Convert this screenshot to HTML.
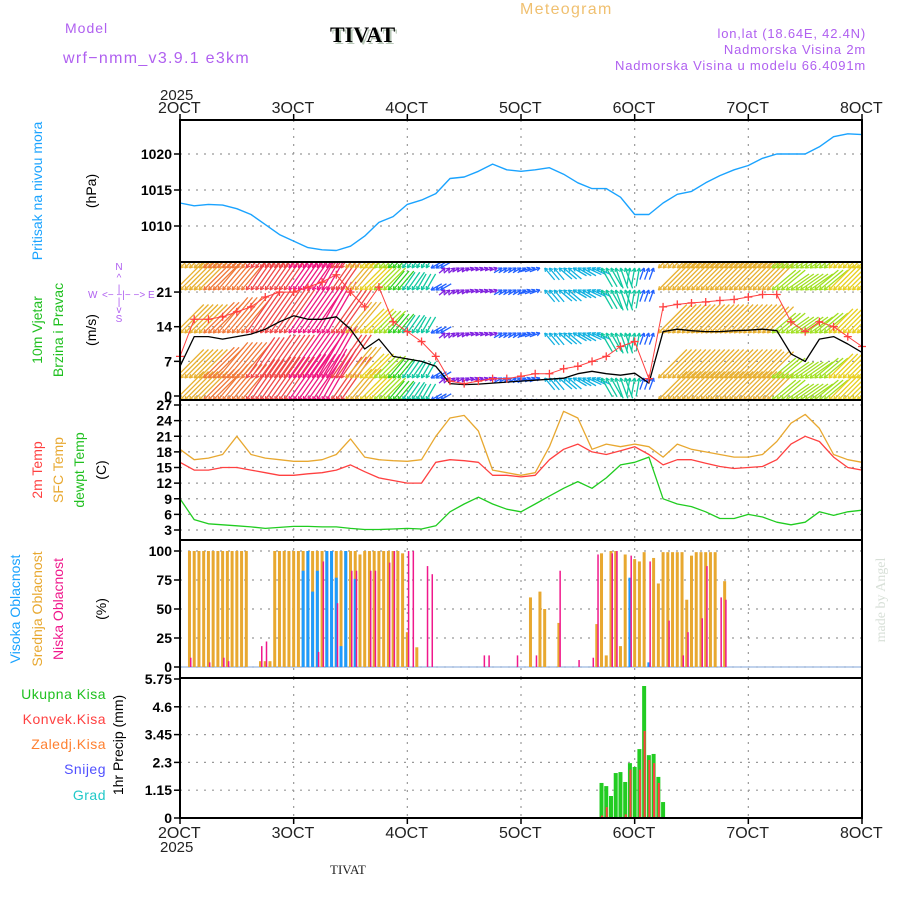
<!DOCTYPE html>
<html><head><meta charset="utf-8"><title>Meteogram TIVAT</title>
<style>
html,body{margin:0;padding:0;background:#fff;}
svg{display:block;}
text{font-family:"Liberation Sans",sans-serif;}
</style></head>
<body>
<svg id="chart" width="900" height="900" viewBox="0 0 900 900" xmlns="http://www.w3.org/2000/svg">
<defs>
<clipPath id="clipW"><rect x="180" y="262" width="682" height="138"/></clipPath>
</defs>
<text x="65" y="33" font-size="14" fill="#b060f0" letter-spacing="1">Model</text>
<text x="63" y="63" font-size="16" fill="#b060f0" letter-spacing="1.3">wrf−nmm_v3.9.1 e3km</text>
<text x="332" y="44" font-size="22" font-weight="bold" fill="#b8c8b8" style="font-family:'Liberation Serif',serif">TIVAT</text>
<text x="330" y="42" font-size="22" font-weight="bold" fill="#000" style="font-family:'Liberation Serif',serif">TIVAT</text>
<text x="520" y="14" font-size="16" fill="#f0c070" letter-spacing="1.3">Meteogram</text>
<text x="866" y="38" font-size="13" fill="#b060f0" text-anchor="end" letter-spacing="0.8">lon,lat (18.64E, 42.4N)</text>
<text x="866" y="54" font-size="13" fill="#b060f0" text-anchor="end" letter-spacing="0.8">Nadmorska Visina 2m</text>
<text x="866" y="70" font-size="13" fill="#b060f0" text-anchor="end" letter-spacing="0.8">Nadmorska Visina u modelu 66.4091m</text>
<text x="160" y="100" font-size="15" fill="#222">2025</text>
<text x="160" y="852" font-size="15" fill="#222">2025</text>
<text x="330" y="874" font-size="13" fill="#222" style="font-family:'Liberation Serif',serif">TIVAT</text>
<text transform="translate(885,600) rotate(-90)" font-size="14" fill="#d8e0d8" text-anchor="middle" style="font-family:'Liberation Serif',serif">made by Angel</text>
<text transform="translate(42,191) rotate(-90)" font-size="14" fill="#1aa3ff" text-anchor="middle">Pritisak na nivou mora</text>
<text transform="translate(96,191) rotate(-90)" font-size="14" fill="#000" text-anchor="middle">(hPa)</text>
<text transform="translate(42,330) rotate(-90)" font-size="14" fill="#20c020" text-anchor="middle">10m Vjetar</text>
<text transform="translate(63,330) rotate(-90)" font-size="14" fill="#20c020" text-anchor="middle">Brzina i Pravac</text>
<text transform="translate(96,330) rotate(-90)" font-size="14" fill="#000" text-anchor="middle">(m/s)</text>
<g fill="#b060f0" font-size="10">
<text x="119" y="270" text-anchor="middle">N</text><text x="119" y="281" text-anchor="middle">^</text><text x="119" y="292" text-anchor="middle">|</text>
<text x="88" y="298">W</text><text x="102" y="298">&lt;− −|− −&gt;</text><text x="148" y="298">E</text>
<text x="119" y="305" text-anchor="middle">|</text><text x="119" y="313" text-anchor="middle">v</text><text x="119" y="322" text-anchor="middle">S</text>
</g>
<text transform="translate(42,470) rotate(-90)" font-size="14" fill="#ff4040" text-anchor="middle">2m Temp</text>
<text transform="translate(63,470) rotate(-90)" font-size="14" fill="#e8a830" text-anchor="middle">SFC Temp</text>
<text transform="translate(84,470) rotate(-90)" font-size="14" fill="#20c020" text-anchor="middle">dewpt Temp</text>
<text transform="translate(106,470) rotate(-90)" font-size="14" fill="#000" text-anchor="middle">(C)</text>
<text transform="translate(20,609) rotate(-90)" font-size="14" fill="#1aa3ff" text-anchor="middle">Visoka Oblacnost</text>
<text transform="translate(42,609) rotate(-90)" font-size="14" fill="#e8a830" text-anchor="middle">Srednja Oblacnost</text>
<text transform="translate(63,609) rotate(-90)" font-size="14" fill="#f0188c" text-anchor="middle">Niska Oblacnost</text>
<text transform="translate(106,609) rotate(-90)" font-size="14" fill="#000" text-anchor="middle">(%)</text>
<text x="106" y="699" font-size="14" fill="#20c020" text-anchor="end" letter-spacing="0.5">Ukupna Kisa</text>
<text x="106" y="724" font-size="14" fill="#ff4040" text-anchor="end" letter-spacing="0.5">Konvek.Kisa</text>
<text x="106" y="749" font-size="14" fill="#ff8030" text-anchor="end" letter-spacing="0.5">Zaledj.Kisa</text>
<text x="106" y="774" font-size="14" fill="#5050ff" text-anchor="end" letter-spacing="0.5">Snijeg</text>
<text x="106" y="800" font-size="14" fill="#20c8c8" text-anchor="end" letter-spacing="0.5">Grad</text>
<text transform="translate(123,745) rotate(-90)" font-size="14" fill="#000" text-anchor="middle">1hr Precip (mm)</text>
</svg>
<script>
const pressure = [1013.2,1012.8,1013.0,1012.9,1012.4,1011.6,1010.2,1008.8,1007.9,1007.0,1006.7,1006.6,1007.2,1008.6,1010.5,1011.3,1013.0,1013.6,1014.5,1016.6,1016.8,1017.6,1018.6,1017.8,1017.6,1017.8,1018.1,1017.2,1016.0,1015.2,1015.2,1014.0,1011.6,1011.6,1013.2,1014.4,1014.8,1016.0,1017.0,1017.8,1018.4,1019.4,1020.0,1020.0,1020.0,1021.0,1022.4,1022.8,1022.7];
const windSpeed = [6,12,12,11.5,12,12.5,13.5,15,16.2,15.5,15.5,16,13.5,9.5,11.5,8,7.5,7,6,2.5,2.3,2.4,2.6,2.8,3,3.2,3.4,3.6,4.5,5,4.5,4.2,4.6,2.6,13,13.5,13.2,13,13,13.2,13.3,13.5,13.2,8.5,7,11.5,12,10.5,8.8];
const gustSpeed = [8,15.5,15.5,16,17,18,20,21,21,22,23,24.5,21,18,22,15,13,11,8,3,2.5,3,3.5,3.5,4,4.5,4.5,5.5,6,7,8,10,11,3.5,18,18.5,18.8,19,19.3,19.5,20,20.5,20.5,15,13,15,14,12,10];
const arrowSpeed = [13,13,14,15,15,16,17,17,18,18,19,17,13,11,10,8,7,6,4,2,2,2.5,2.5,3,3,3.5,5,5.5,5,5,7,7,6,4,13,13,13,13,13,13,13,12,10,9,9,10,11,11,11];
const arrowDir = [45,45,45,40,40,35,35,35,35,35,30,35,40,45,45,40,35,30,60,230,240,250,250,240,240,250,140,130,120,115,150,160,190,200,45,45,45,45,45,45,45,45,50,55,55,50,45,45,45];
const tempSfc = [18.5,16.5,16.8,17.5,21,17.5,16.8,16.5,16.2,16.2,16.5,17.5,20.5,17,16.5,16.3,16.2,16.5,21,24.5,25,22,14.5,14,13.5,14,19,25.8,24.5,18.5,19.5,19,19.5,19,17,19.5,18.5,18,17.5,17,17,17.5,20,23.5,25.2,22.5,17.5,16.5,16];
const temp2m = [16,14.5,14.5,15,15,14.5,14,13.5,13.5,13.8,14,14.5,15.5,14.2,13,12.5,12,12,16,16.5,16.3,16,13.5,13.5,13.2,13.5,16.5,18.5,19.5,18,17.5,18.2,19,17.5,15.5,16.5,16.5,15.8,15.2,14.8,15,15.2,16.5,19.5,21,20,17,15,14.5];
const dewpt = [9,5,4.2,4,3.8,3.6,3.3,3.5,3.7,3.7,3.6,3.6,3.3,3.1,3.1,3.2,3.3,3.2,3.8,6.5,8,9.3,8,7,6.5,8,9.5,11,12.3,11,13,15.5,16,17,9,8,7.5,6.5,5.2,5.2,6,5.5,4.5,4,4.5,6.5,5.8,6.5,6.8];
const midHours = [2,3,4,5,6,7,8,9,10,11,12,13,14,17,18,19,20,21,22,23,24,25,26,27,28,29,30,31,32,33,34,35,36,37,38,39,40,41,42,43,44,45,46,47,48,50,74,76,77,80,88,89,90,91,92,93,94,96,97,98,100,101,102,103,104,105,106,107,108,109,110,111,112,113,115];
const midVals  = [100,100,100,100,100,100,100,100,100,100,100,100,100,5,5,5,100,100,100,100,100,100,100,100,100,100,100,100,100,100,100,100,100,100,97,100,100,100,100,100,100,100,100,98,30,17,60,65,50,38,37,98,10,100,100,18,97,93,91,99,94,72,99,99,99,99,99,58,96,99,99,99,99,99,74];
const highHours = [26,27,28,29,31,32,33,34,35,37,95,99];
const highVals  = [83,100,65,83,100,100,77,18,100,76,77,4];
const lowHours = [2,6,9,10,17,18,29,30,33,36,37,40,41,44,45,48,49,52,53,64,65,71,75,80,84,87,88,91,92,95,99,103,106,107,110,111,114,115];
const lowVals  = [8,4,8,5,18,22,13,91,55,83,83,83,83,90,100,100,100,87,80,10,10,10,10,83,6,8,97,98,100,96,91,40,10,30,42,87,60,58];
const precipHours = [89,90,91,92,93,94,95,96,97,98,99,100,101,102];
const precipTotal = [1.45,1.32,0.91,1.86,1.9,1.49,2.27,2.11,2.85,5.46,2.6,2.65,1.7,0.66];
const precipConv  = [0.1,0.45,0,0,0,0.15,2.0,0,2.0,3.6,2.4,2.27,1.45,0];
const dayLabels = ["2OCT","3OCT","4OCT","5OCT","6OCT","7OCT","8OCT"];
const pTicks = [1010,1015,1020];
const wTicks = [0,7,14,21];
const tTicks = [3,6,9,12,15,18,21,24,27];
const cTicks = [0,25,50,75,100];
const rTicks = [0,1.15,2.3,3.45,4.6,5.75];

const svg = document.getElementById('chart');
const NS = 'http://www.w3.org/2000/svg';
function mk(tag, attrs){const e=document.createElementNS(NS,tag);for(const k in attrs)e.setAttribute(k,attrs[k]);svg.appendChild(e);return e;}
const X0=180,X1=862;
const xH = h => X0 + h*(X1-X0)/144;
const x3 = i => xH(i*3);
const yP = v => 226 - (v-1010)*7.2;
const yW = v => 396 - v*4.95;
const yT = v => 530 - (v-3)*(125/24);
const yC = v => 667 - v*1.16;
const yR = v => 818 - v*139/5.75;
const panels = [
 {name:'pressure',top:120,bot:262,ticks:pTicks,y:yP},
 {name:'wind',top:262,bot:400,ticks:wTicks,y:yW},
 {name:'temp',top:400,bot:540,ticks:tTicks,y:yT},
 {name:'cloud',top:540,bot:678,ticks:cTicks,y:yC},
 {name:'precip',top:678,bot:818,ticks:rTicks,y:yR}
];
panels.forEach(p=>{
  for(let d=1; d<6; d++){
    const g=mk('line',{x1:X0+d*(X1-X0)/6,x2:X0+d*(X1-X0)/6,y1:p.top,y2:p.bot,stroke:'#999','stroke-width':1.2,'stroke-dasharray':'2,6'});
    
    
  }
  p.ticks.forEach(t=>{
    const yy=p.y(t);
    if(yy>p.top+3 && yy<p.bot-3){
      const g=mk('line',{x1:X0,x2:X1,y1:yy,y2:yy,stroke:'#999','stroke-width':1.2,'stroke-dasharray':'2,6'});
      
      
    }
    const tk=mk('line',{x1:X0-6,x2:X0,y1:yy,y2:yy,stroke:'#000','stroke-width':1.5});
    
    
    const lb=mk('text',{x:X0-8,y:yy+5,'font-size':14,'font-weight':'bold','text-anchor':'end',fill:'#000'});
    lb.textContent=String(t);
    
    
  });
});
function poly(vals, yf, color, name, w){
  const pts=vals.map((v,i)=>x3(i).toFixed(1)+','+yf(v).toFixed(1)).join(' ');
  const e=mk('polyline',{points:pts,fill:'none',stroke:color,'stroke-width':w||1.3,'stroke-linejoin':'round'});
  
  
  return e;
}
poly(pressure,yP,'#1aa3ff','pressure-line',1.4);
function windColor(s){
  if(s<3) return '#8020e0'; if(s<4.5) return '#2060ff'; if(s<6) return '#10b0e0';
  if(s<7.5) return '#10c8a0'; if(s<9) return '#30d020'; if(s<10.5) return '#a0e020';
  if(s<12) return '#e8d020'; if(s<14) return '#e8b030'; if(s<16) return '#f07838';
  if(s<18) return '#f04848'; return '#f01880';
}
const rows=[268,290,333,378,400];
const wg=mk('g',{'clip-path':'url(#clipW)'});


const hourW = xH(1)-xH(0);
arrowSpeed.forEach((s,i)=>{
  const to=(arrowDir[i]+180)*Math.PI/180;
  const L=Math.max(8,s*3.1);
  const vx=Math.sin(to)*L, vy=-Math.cos(to)*L;
  const ang=Math.atan2(vy,vx);
  [-1,0,1].forEach(k=>{
    rows.forEach(ry=>{
      const hx=x3(i)+k*hourW, hy=ry;
      const a=document.createElementNS(NS,'line');
      a.setAttribute('x1',hx-vx);a.setAttribute('y1',hy-vy);a.setAttribute('x2',hx);a.setAttribute('y2',hy);
      a.setAttribute('stroke',windColor(s));a.setAttribute('stroke-width',1.3);
      
      
      wg.appendChild(a);
      [0.5,-0.5].forEach(d=>{
        const h=document.createElementNS(NS,'line');
        h.setAttribute('x1',hx);h.setAttribute('y1',hy);
        h.setAttribute('x2',hx-4*Math.cos(ang+d));h.setAttribute('y2',hy-4*Math.sin(ang+d));
        h.setAttribute('stroke',windColor(s));h.setAttribute('stroke-width',1.2);
        
        
        wg.appendChild(h);
      });
    });
  });
});
poly(windSpeed,yW,'#000','wind-speed-line',1.3);
poly(gustSpeed,yW,'#ff4040','wind-gust-line',1);
gustSpeed.forEach((v,i)=>{
  const cx=x3(i), cy=yW(v);
  const m=mk('path',{d:`M${cx-4},${cy}H${cx+4}M${cx},${cy-4}V${cy+4}`,stroke:'#ff4040','stroke-width':1.3});
  
  
});
poly(tempSfc,yT,'#e8a830','sfc-temp-line');
poly(temp2m,yT,'#ff4040','temp-2m-line');
poly(dewpt,yT,'#20cc20','dewpt-line');
const base=mk('line',{x1:X0,x2:X1,y1:667,y2:667,stroke:'#9ab8e0','stroke-width':1.2});


midHours.forEach((h,i)=>{const b=mk('rect',{x:xH(h)-1.5,y:yC(midVals[i]),width:3,height:667-yC(midVals[i]),fill:'#e8a830'});
  
  });
highHours.forEach((h,i)=>{const b=mk('rect',{x:xH(h)-1.5,y:yC(highVals[i]),width:3,height:667-yC(highVals[i]),fill:'#1e9bff'});
  
  });
lowHours.forEach((h,i)=>{const b=mk('rect',{x:xH(h)+0.5,y:yC(lowVals[i]),width:1.5,height:667-yC(lowVals[i]),fill:'#f0188c'});
  
  });
precipHours.forEach((h,i)=>{
  const b=mk('rect',{x:xH(h)-2,y:yR(precipTotal[i]),width:4,height:818-yR(precipTotal[i]),fill:'#22cc22'});
  
  
  if(precipConv[i]>0){
    const c=mk('rect',{x:xH(h)-0.5,y:yR(precipConv[i]),width:2,height:818-yR(precipConv[i]),fill:'#ff4040'});
    
    
  }
});
panels.forEach(p=>{
  const r=mk('rect',{x:X0,y:p.top,width:X1-X0,height:p.bot-p.top,fill:'none',stroke:'#000','stroke-width':2});
  
  
});
dayLabels.forEach((d,i)=>{
  const xx=X0+i*(X1-X0)/6;
  [[120,114],[818,824]].forEach(([y1,y2])=>{
    const t=mk('line',{x1:xx,x2:xx,y1:y1,y2:y2,stroke:'#000','stroke-width':1.5});
    
    
  });
  const a=mk('text',{x:xx-22,y:113,'font-size':16,fill:'#222'}); a.textContent=d;
  
  
  const b=mk('text',{x:xx-22,y:838,'font-size':16,fill:'#222'}); b.textContent=d;
  
  
});
</script>
</body></html>
